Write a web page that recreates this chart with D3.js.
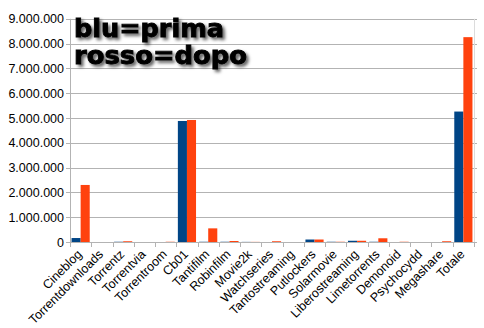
<!DOCTYPE html>
<html><head><meta charset="utf-8">
<script src="https://cdn.jsdelivr.net/npm/d3@7"></script>
<style>body{margin:0;background:#fff}svg{display:block}</style>
</head><body>
<svg id="c" width="484" height="328"></svg>
<script>
const categories = ["Cineblog","Torrentdownloads","Torrentz","Torrentvia","Torrentroom","Cb01","Tantifilm","Robinfilm","Movie2k","Watchseries","Tantostreaming","Putlockers","Solarmovie","Liberostreaming","Limetorrents","Demonoid","Psychocydd","Megashare","Totale"];
const prima = [160000,0,10000,0,0,4880000,10000,10000,5000,0,0,100000,10000,50000,10000,0,0,0,5260000];
const dopo  = [2300000,0,30000,0,10000,4920000,550000,40000,5000,30000,0,100000,10000,50000,150000,10000,0,30000,8260000];
const yTicks = [0,1000000,2000000,3000000,4000000,5000000,6000000,7000000,8000000,9000000];
const legendLines = ["blu=prima","rosso=dopo"];

const svg = d3.select("#c");
const L = 70, R = 474, T = 18.8, B = 242;
const x = d3.scaleBand().domain(categories).range([L, R]).paddingInner(0).paddingOuter(0);
const xs = d3.scaleBand().domain(["prima","dopo"]).range([0, x.bandwidth()]).paddingInner(0).paddingOuter(0.17);
const y = d3.scaleLinear().domain([0, 9000000]).range([B, T]);
const fmt = v => d3.format(",")(v).replace(/,/g, ".");

// gridlines
svg.append("g").selectAll("line").data(yTicks).join("line")
  .attr("x1", L - 4).attr("x2", R + 3)
  .attr("y1", d => Math.round(y(d)) + 0.5).attr("y2", d => Math.round(y(d)) + 0.5)
  .attr("stroke", "#b3b3b3").attr("stroke-width", 1);

// y axis labels
svg.append("g").selectAll("text").data(yTicks).join("text")
  .attr("x", L - 6).attr("y", d => y(d) + 4.5)
  .attr("text-anchor", "end")
  .attr("font-family", "Liberation Sans, Arial, sans-serif").attr("font-size", 12.5)
  .attr("fill", "#000").text(fmt);

// bars
const series = [{k:"prima", v:prima, c:"#004586"},{k:"dopo", v:dopo, c:"#ff420e"}];
series.forEach(s => {
  svg.append("g").selectAll("rect").data(categories).join("rect")
    .attr("x", (d) => x(d) + xs(s.k))
    .attr("width", xs.bandwidth())
    .attr("y", (d, i) => y(s.v[i]))
    .attr("height", (d, i) => B - y(s.v[i]))
    .attr("fill", s.c);
});

// axes lines
svg.append("line").attr("x1", L + 0.5).attr("x2", L + 0.5).attr("y1", T).attr("y2", B + 5).attr("stroke", "#b3b3b3");
svg.append("line").attr("x1", R + 0.5).attr("x2", R + 0.5).attr("y1", T).attr("y2", B + 5).attr("stroke", "#dcdcdc");
// x tick marks
const bounds = categories.map(c => x(c)).concat([R]);
svg.append("g").selectAll("line").data(bounds).join("line")
  .attr("x1", d => Math.round(d) + 0.5).attr("x2", d => Math.round(d) + 0.5)
  .attr("y1", B).attr("y2", B + 5).attr("stroke", "#b3b3b3");

// category labels
svg.append("g").selectAll("text").data(categories).join("text")
  .attr("transform", d => `translate(${x(d) + x.bandwidth()/2 + 2},${B + 13}) rotate(-45)`)
  .attr("text-anchor", "end")
  .attr("font-family", "Liberation Sans, Arial, sans-serif").attr("font-size", 12.5)
  .attr("fill", "#000").text(d => d);

// legend text with shadow
const defs = svg.append("defs");
const f = defs.append("filter").attr("id", "sh").attr("x", "-10%").attr("y", "-30%").attr("width", "130%").attr("height", "170%");
f.append("feDropShadow").attr("dx", 2.5).attr("dy", 2.5).attr("stdDeviation", 1.6).attr("flood-color", "#000").attr("flood-opacity", 0.6);
svg.append("g").selectAll("text").data(legendLines).join("text")
  .attr("x", 74).attr("y", (d, i) => 37 + i * 27)
  .attr("font-family", "DejaVu Sans, Verdana, sans-serif").attr("font-weight", "bold")
  .attr("font-size", 24).attr("fill", "#000").attr("stroke", "#000").attr("stroke-width", 0.9)
  .attr("textLength", (d, i) => i === 0 ? 150 : 173).attr("lengthAdjust", "spacingAndGlyphs")
  .attr("filter", "url(#sh)").text(d => d);
</script>
</body></html>
